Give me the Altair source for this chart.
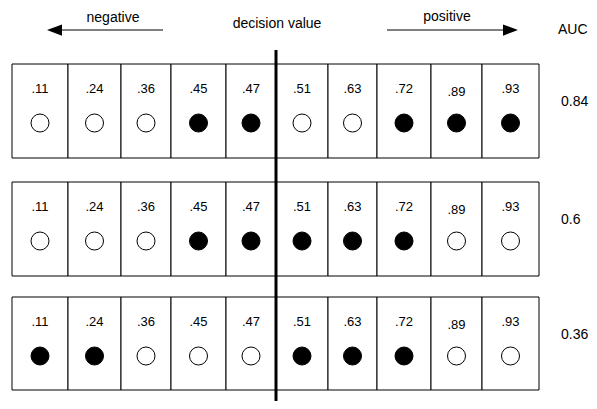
import altair as alt
import pandas as pd

# ---- data ----
labels = [".11", ".24", ".36", ".45", ".47", ".51", ".63", ".72", ".89", ".93"]
# 1 = filled (positive), 0 = open (negative), one list per ranking
row1 = [0, 0, 0, 1, 1, 0, 0, 1, 1, 1]
row2 = [0, 0, 0, 1, 1, 1, 1, 1, 0, 0]
row3 = [1, 1, 0, 0, 0, 1, 1, 1, 0, 0]
aucs = ["0.84", "0.6", "0.36"]
# cell edges along the decision-value axis (diagram units)
edges = [12, 68, 121, 171, 226, 276, 328, 377, 431, 482, 539]
row_tops = [64, 182, 297]
row_bottoms = [158, 276, 390]
threshold = 276

FONT = "Liberation Sans"
W, H = 581, 393
xs = alt.Scale(domain=[8, 8 + W], nice=False, zero=False)
ys = alt.Scale(domain=[8, 8 + H], nice=False, zero=False, reverse=True)

def X(f="x"):
    return alt.X(f"{f}:Q", scale=xs, axis=None)

def Y(f="y"):
    return alt.Y(f"{f}:Q", scale=ys, axis=None)

rows = [row1, row2, row3]
cells, pts, txt = [], [], []
for r, pat in enumerate(rows):
    for i, lab in enumerate(labels):
        cx = (edges[i] + edges[i + 1]) / 2
        cells.append(dict(x=edges[i], x2=edges[i + 1], y=row_tops[r], y2=row_bottoms[r]))
        pts.append(dict(x=cx, y=row_tops[r] + 59, filled="pos" if pat[i] else "neg"))
        txt.append(dict(x=cx, y=row_tops[r] + 29 + (3 if lab == ".89" else 0), t=lab))

cells_df = pd.DataFrame(cells)
pts_df = pd.DataFrame(pts)
txt_df = pd.DataFrame(txt)
auc_df = pd.DataFrame(dict(x=[561] * 3, y=[t + 42 for t in row_tops], t=aucs))

rects = alt.Chart(cells_df).mark_rect(fill="white", stroke="black", strokeWidth=1).encode(
    x=X(), x2="x2:Q", y=Y(), y2="y2:Q")

circles = alt.Chart(pts_df).mark_point(shape="circle", size=324, strokeWidth=1, opacity=1).encode(
    x=X(), y=Y(),
    fill=alt.Fill("filled:N", scale=alt.Scale(domain=["pos", "neg"], range=["black", "white"]), legend=None),
    color=alt.value("black"))

cell_text = alt.Chart(txt_df).mark_text(font=FONT, fontSize=13, align="center", baseline="alphabetic", color="black").encode(
    x=X(), y=Y(), text="t:N")

auc_text = alt.Chart(auc_df).mark_text(font=FONT, fontSize=14, align="left", baseline="alphabetic", color="black").encode(
    x=X(), y=Y(), text="t:N")

head_df = pd.DataFrame(dict(
    x=[113, 277, 447, 558], y=[22, 28, 21, 34],
    t=["negative", "decision value", "positive", "AUC"],
    a=["center", "center", "center", "left"]))
head_c = alt.Chart(head_df[head_df.a == "center"]).mark_text(font=FONT, fontSize=14, align="center", baseline="alphabetic", color="black").encode(
    x=X(), y=Y(), text="t:N")
head_l = alt.Chart(head_df[head_df.a == "left"]).mark_text(font=FONT, fontSize=14, align="left", baseline="alphabetic", color="black").encode(
    x=X(), y=Y(), text="t:N")

arrow_lines = pd.DataFrame(dict(x=[52, 387], x2=[163, 505], y=[30, 30]))
lines = alt.Chart(arrow_lines).mark_rule(color="black", strokeWidth=1).encode(x=X(), x2="x2:Q", y=Y())

left_head = alt.Chart(pd.DataFrame(dict(x=[54.5], y=[30]))).mark_point(
    shape="M1,-0.75L-1,0L1,0.75Z", size=225, filled=True, color="black", opacity=1, strokeWidth=0).encode(x=X(), y=Y())
right_head = alt.Chart(pd.DataFrame(dict(x=[510.5], y=[30]))).mark_point(
    shape="M-1,-0.75L1,0L-1,0.75Z", size=225, filled=True, color="black", opacity=1, strokeWidth=0).encode(x=X(), y=Y())

thr = alt.Chart(pd.DataFrame(dict(x=[threshold], y=[50], y2=[8 + H]))).mark_rule(
    color="black", strokeWidth=3).encode(x=X(), y=Y(), y2="y2:Q")

chart = alt.layer(rects, thr, circles, cell_text, auc_text, head_c, head_l, lines, left_head, right_head).properties(
    width=W, height=H, padding=0, autosize=alt.AutoSizeParams(type="none")
).configure(background="white").configure_view(stroke=None)

chart.save("out.html", embed_options={"renderer": "svg", "actions": False})
